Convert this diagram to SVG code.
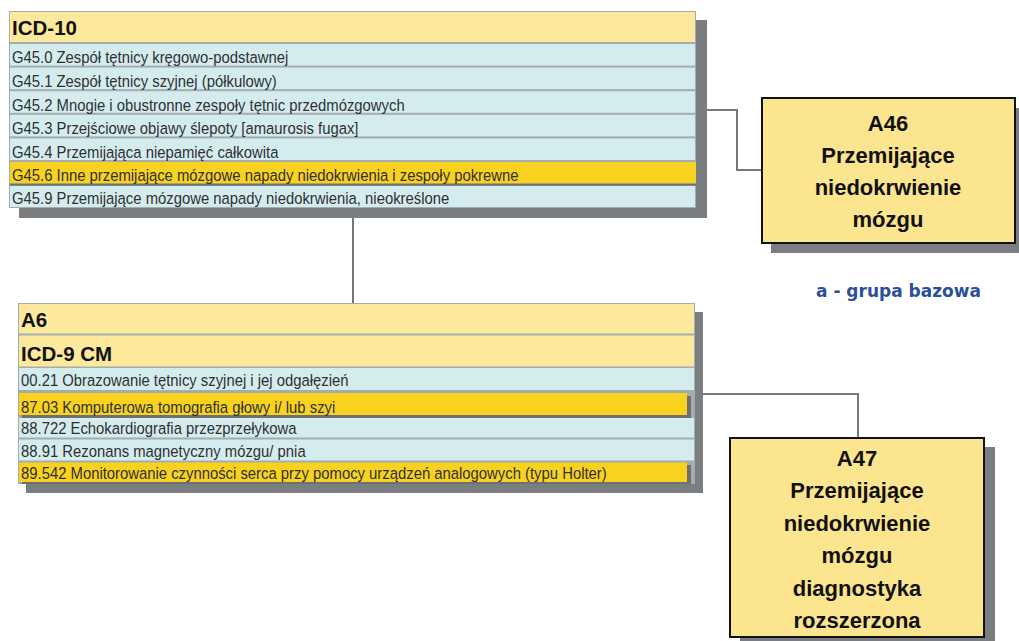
<svg xmlns="http://www.w3.org/2000/svg" width="1019" height="641" viewBox="0 0 1019 641">
  <style>
    .shadow { fill: #7a7e81; }
    .frame { fill: #a3acae; }
    .head { fill: #fde99c; }
    .row { fill: #d5ecee; }
    .hl { fill: #f9d21f; }
    .hl-edge { fill: #6c7073; }
    .head-t { font-family: "Liberation Sans", Arial, sans-serif; font-weight: bold; font-size: 20.5px; fill: #111; }
    .row-t { font-family: "Liberation Sans", Arial, sans-serif; font-size: 16.5px; fill: #2e3133; }
    .box { fill: #fbe58e; stroke: #111; stroke-width: 2; }
    .box-t { font-family: "Liberation Sans", Arial, sans-serif; font-weight: bold; font-size: 22px; fill: #111; text-anchor: middle; }
    .note { font-family: "DejaVu Sans", Verdana, sans-serif; font-weight: bold; font-size: 17px; fill: #2b4f98; text-anchor: middle; }
    .link { fill: none; stroke: #74787b; stroke-width: 2; }
  </style>

  <!-- connectors -->
  <g id="connectors">
    <polyline class="link" points="696,110 737,110 737,170 762,170"/>
    <line class="link" x1="353" y1="208" x2="353" y2="303"/>
    <polyline class="link" points="695,394 858,394 858,438"/>
  </g>

  <!-- ICD-10 table -->
  <g id="icd10">
    <rect class="shadow" x="19" y="20" width="688" height="198"/>
    <rect class="frame" x="9" y="11" width="687" height="197"/>
    <rect class="head" x="10" y="12" width="685" height="30"/>
    <text class="head-t" x="12" y="35">ICD-10</text>
    <rect class="row" x="10" y="44" width="685" height="21.6"/>
    <rect class="row" x="10" y="67.6" width="685" height="21.6"/>
    <rect class="row" x="10" y="91.2" width="685" height="21.6"/>
    <rect class="row" x="10" y="114.8" width="685" height="21.6"/>
    <rect class="row" x="10" y="138.4" width="685" height="21.6"/>
    <rect class="hl" x="10" y="162" width="686" height="21.6"/>
    <rect class="hl-edge" x="10" y="183.6" width="686" height="2"/>
    <rect class="row" x="10" y="186" width="685" height="21"/>
    <g transform="translate(12 0) scale(0.9 1)">
      <text class="row-t" x="0" y="63.5">G45.0 Zespół tętnicy kręgowo-podstawnej</text>
      <text class="row-t" x="0" y="87.1">G45.1 Zespół tętnicy szyjnej (półkulowy)</text>
      <text class="row-t" x="0" y="110.7">G45.2 Mnogie i obustronne zespoły tętnic przedmózgowych</text>
      <text class="row-t" x="0" y="134.3">G45.3 Przejściowe objawy ślepoty [amaurosis fugax]</text>
      <text class="row-t" x="0" y="157.9">G45.4 Przemijająca niepamięć całkowita</text>
      <text class="row-t" x="0" y="181.5">G45.6 Inne przemijające mózgowe napady niedokrwienia i zespoły pokrewne</text>
      <text class="row-t" x="0" y="204.5">G45.9 Przemijające mózgowe napady niedokrwienia, nieokreślone</text>
    </g>
  </g>

  <!-- A6 / ICD-9 CM table -->
  <g id="icd9">
    <rect class="shadow" x="26" y="312" width="677" height="181"/>
    <rect class="frame" x="18" y="303" width="677" height="181"/>
    <rect class="head" x="19" y="304" width="675" height="29.5"/>
    <text class="head-t" x="21" y="327">A6</text>
    <rect class="head" x="19" y="335.5" width="675" height="31"/>
    <text class="head-t" x="21" y="361">ICD-9 CM</text>
    <rect class="row" x="19" y="368" width="675" height="22"/>
    <rect class="hl-edge" x="22" y="396" width="669" height="22"/>
    <rect class="hl" x="19" y="393" width="668" height="22"/>
    <rect class="row" x="19" y="418" width="675" height="19.5"/>
    <rect class="row" x="19" y="439.5" width="675" height="21"/>
    <rect class="hl-edge" x="22" y="465" width="669" height="19"/>
    <rect class="hl" x="19" y="462.5" width="668" height="19.5"/>
    <g transform="translate(21 0) scale(0.9 1)">
      <text class="row-t" x="0" y="386">00.21 Obrazowanie tętnicy szyjnej i jej odgałęzień</text>
      <text class="row-t" x="0" y="413">87.03 Komputerowa tomografia głowy i/ lub szyi</text>
      <text class="row-t" x="0" y="434">88.722 Echokardiografia przezprzełykowa</text>
      <text class="row-t" x="0" y="457">88.91 Rezonans magnetyczny mózgu/ pnia</text>
      <text class="row-t" x="0" y="479">89.542 Monitorowanie czynności serca przy pomocy urządzeń analogowych (typu Holter)</text>
    </g>
  </g>

  <!-- A46 group -->
  <g id="a46">
    <rect class="shadow" x="771" y="108" width="254" height="145"/>
    <rect class="box" x="762" y="98" width="253" height="145"/>
    <text class="box-t" x="888" y="131">A46</text>
    <text class="box-t" x="888" y="163">Przemijające</text>
    <text class="box-t" x="888" y="195">niedokrwienie</text>
    <text class="box-t" x="888" y="227">mózgu</text>
  </g>

  <text id="base-note" class="note" x="898.5" y="297">a - grupa bazowa</text>

  <!-- A47 group -->
  <g id="a47">
    <rect class="shadow" x="740" y="447" width="255" height="200"/>
    <rect class="box" x="730" y="438" width="254" height="199"/>
    <text class="box-t" x="857" y="466">A47</text>
    <text class="box-t" x="857" y="498.4">Przemijające</text>
    <text class="box-t" x="857" y="530.8">niedokrwienie</text>
    <text class="box-t" x="857" y="563.2">mózgu</text>
    <text class="box-t" x="857" y="595.6">diagnostyka</text>
    <text class="box-t" x="857" y="628">rozszerzona</text>
  </g>
</svg>
